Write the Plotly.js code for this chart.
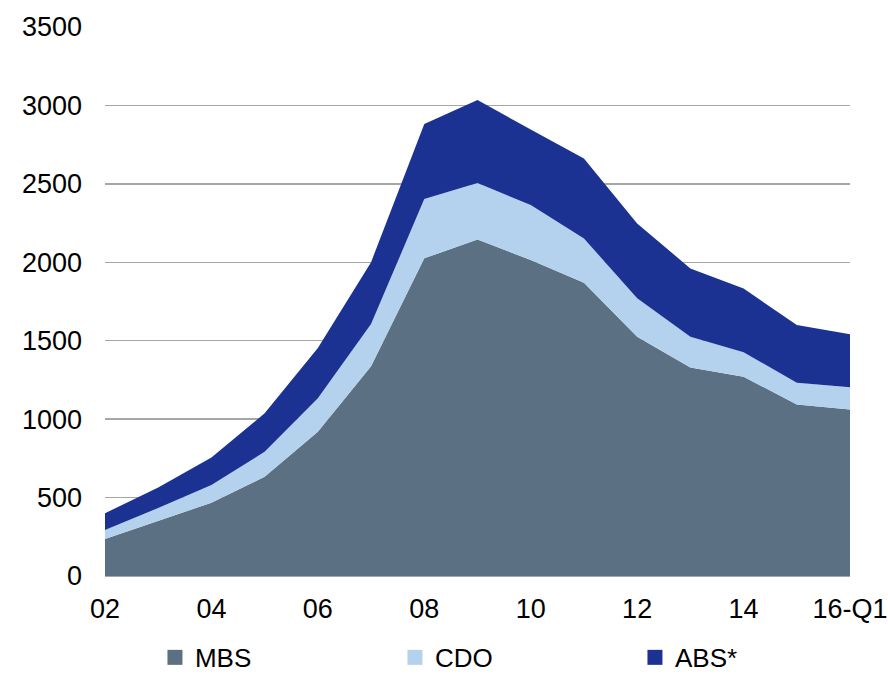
<!DOCTYPE html>
<html>
<head>
<meta charset="utf-8">
<script src="https://cdn.plot.ly/plotly-3.0.1.min.js"></script>
<style>html,body{margin:0;padding:0;background:#fff;}#chart{width:888px;height:675px;}</style>
</head>
<body>
<div id="chart"></div>
<script>
const years = ['02','03','04','05','06','07','08','09','10','11','12','13','14','15','16-Q1'];
const tickLabels = ['02','04','06','08','10','12','14','16-Q1'];
const mbs = [236, 352, 467, 633, 920, 1338, 2025, 2146, 2014, 1870, 1525, 1330, 1270, 1094, 1062];
const cdo = [57, 81, 113, 159, 213, 268, 378, 359, 351, 282, 245, 195, 157, 138, 141];
const abs = [107, 132, 176, 245, 320, 395, 478, 529, 482, 510, 477, 436, 406, 368, 339];
const seriesNames = ['MBS', 'CDO', 'ABS*'];
const colors = ['#5b7083', '#b4d1ee', '#1b3293'];

const xIdx = years.map((_, i) => i);
const tickIdx = tickLabels.map(t => years.indexOf(t));
const allSeries = [mbs, cdo, abs];

const traces = [];
allSeries.forEach((vals, k) => {
  traces.push({
    type: 'scatter', mode: 'lines', x: xIdx, y: vals,
    stackgroup: 'one', line: {width: 0, color: colors[k]}, fillcolor: colors[k],
    name: seriesNames[k], showlegend: false, hoverinfo: 'skip'
  });
});
allSeries.forEach((vals, k) => {
  traces.push({
    type: 'scatter', mode: 'markers', x: [null], y: [null],
    marker: {symbol: 'square', size: 15, color: colors[k]},
    name: seriesNames[k], showlegend: true, hoverinfo: 'skip'
  });
});

const font = 'Liberation Sans, Arial, sans-serif';
const layout = {
  width: 888, height: 675,
  margin: {l: 105, r: 38, t: 27, b: 99},
  paper_bgcolor: '#ffffff', plot_bgcolor: '#ffffff',
  showlegend: true,
  xaxis: {
    range: [0, 14], tickvals: tickIdx, ticktext: tickLabels,
    showgrid: false, zeroline: false, showline: true, linecolor: '#a6a6a6', linewidth: 1.3,
    ticks: '', tickfont: {family: font, size: 27, color: '#000'}, ticklabelstandoff: 8,
    fixedrange: true
  },
  yaxis: {
    range: [0, 3500], tickvals: [0, 500, 1000, 1500, 2000, 2500, 3000, 3500],
    showgrid: true, gridcolor: '#a6a6a6', gridwidth: 1.3, zeroline: false, showline: false,
    ticks: '', tickfont: {family: font, size: 27, color: '#000'}, ticklabelstandoff: 22,
    fixedrange: true
  },
  legend: {
    orientation: 'h', traceorder: 'normal',
    xref: 'container', yref: 'container',
    x: 0.1745, xanchor: 'left', y: 0.026, yanchor: 'middle',
    entrywidth: 195, entrywidthmode: 'pixels',
    font: {family: font, size: 26, color: '#000'}, bgcolor: 'rgba(0,0,0,0)'
  }
};
Plotly.newPlot('chart', traces, layout, {displayModeBar: false, staticPlot: true});
</script>
</body>
</html>
